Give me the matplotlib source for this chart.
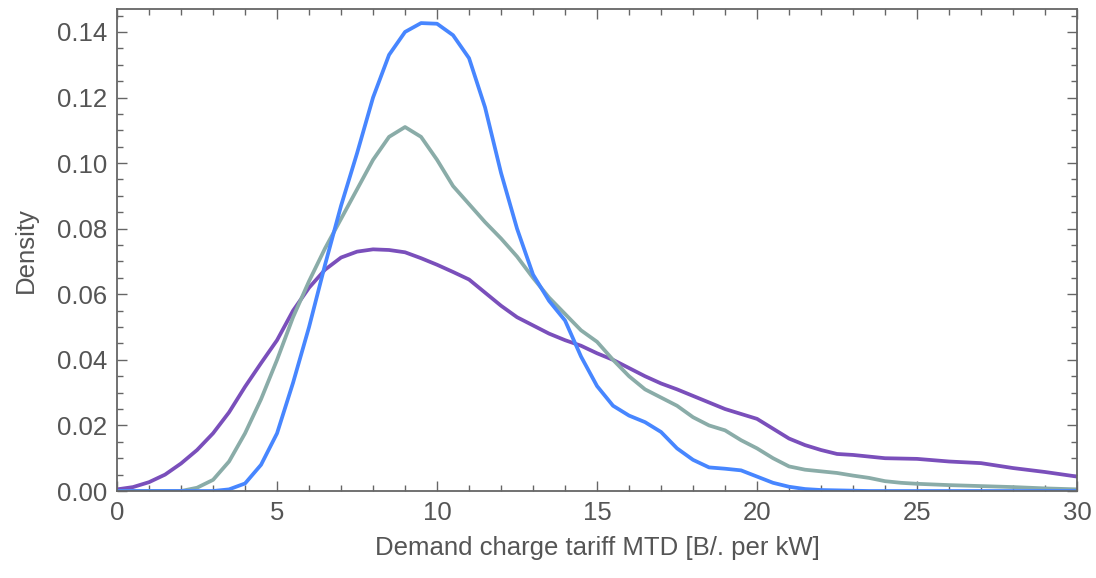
import numpy as np
import matplotlib
matplotlib.use("Agg")
import matplotlib.pyplot as plt
from matplotlib.ticker import MultipleLocator

plt.rcParams["font.family"] = ["Liberation Sans", "DejaVu Sans"]

tariff = [0.0, 0.5, 1.0, 1.5, 2.0, 2.5, 3.0, 3.5, 4.0, 4.5,
          5.0, 5.5, 6.0, 6.5, 7.0, 7.5, 8.0, 8.5, 9.0, 9.5,
          10.0, 10.5, 11.0, 11.5, 12.0, 12.5, 13.0, 13.5, 14.0, 14.5,
          15.0, 15.5, 16.0, 16.5, 17.0, 17.5, 18.0, 18.5, 19.0, 19.5,
          20.0, 20.5, 21.0, 21.5, 22.0, 22.5, 23.0, 23.5, 24.0, 24.5,
          25.0, 26.0, 27.0, 28.0, 29.0, 30.0]

density_blue = [0.0, 0.0, 0.0, 0.0, 0.0, 0.0, 0.0, 0.0005, 0.0023, 0.008,
                0.0176, 0.033, 0.050, 0.069, 0.087, 0.103, 0.120, 0.133, 0.1400, 0.1427,
                0.1425, 0.139, 0.132, 0.117, 0.097, 0.080, 0.066, 0.058, 0.052, 0.041,
                0.032, 0.026, 0.023, 0.021, 0.018, 0.013, 0.0095, 0.0072, 0.0068, 0.0063,
                0.0044, 0.0025, 0.0013, 0.0006, 0.0003, 0.0002, 0.0001, 0.0, 0.0, 0.0,
                0.0, 0.0, 0.0, 0.0, 0.0, 0.0]

density_teal = [0.0, 0.0, 0.0, 0.0, 0.0, 0.001, 0.0034, 0.009, 0.0176, 0.028,
                0.040, 0.053, 0.064, 0.074, 0.083, 0.092, 0.101, 0.108, 0.111, 0.108,
                0.101, 0.093, 0.0875, 0.082, 0.077, 0.0715, 0.065, 0.059, 0.054, 0.049,
                0.0455, 0.040, 0.035, 0.031, 0.0285, 0.026, 0.0225, 0.020, 0.0185, 0.0155,
                0.013, 0.010, 0.0075, 0.0065, 0.006, 0.0055, 0.0047, 0.004, 0.003, 0.0025,
                0.0022, 0.0018, 0.0015, 0.0012, 0.0008, 0.0005]

density_purple = [0.0005, 0.0012, 0.0027, 0.005, 0.0084, 0.0125, 0.0176, 0.024, 0.0318, 0.039,
                  0.046, 0.055, 0.062, 0.0675, 0.0712, 0.0730, 0.0737, 0.0735, 0.0728, 0.071,
                  0.069, 0.0668, 0.0645, 0.0605, 0.0565, 0.053, 0.0505, 0.048, 0.046, 0.0443,
                  0.042, 0.040, 0.0375, 0.035, 0.0328, 0.031, 0.029, 0.027, 0.025, 0.0235,
                  0.022, 0.019, 0.016, 0.014, 0.0125, 0.0113, 0.011, 0.0105, 0.010, 0.0099,
                  0.0098, 0.009, 0.0085, 0.007, 0.0058, 0.0044]

series = [
    (density_purple, "#7a4fbb"),
    (density_teal, "#8aaca8"),
    (density_blue, "#4786ff"),
]

fig = plt.figure(figsize=(10.96, 5.78), dpi=100)
ax = fig.add_axes([0.1068, 0.1505, 0.8759, 0.8334])

for dens, col in series:
    ax.plot(tariff, dens, color=col, lw=2.7, solid_capstyle="round",
            solid_joinstyle="round")

ax.set_xlim(0, 30)
ax.set_ylim(0, 0.1469)

ax.xaxis.set_major_locator(MultipleLocator(5))
ax.xaxis.set_minor_locator(MultipleLocator(1))
ax.yaxis.set_major_locator(MultipleLocator(0.02))
ax.yaxis.set_minor_locator(MultipleLocator(0.005))
ax.yaxis.set_major_formatter(plt.FormatStrFormatter("%.2f"))

grey = "#666666"
for sp in ax.spines.values():
    sp.set_color(grey)
    sp.set_linewidth(1.3)

ax.tick_params(which="both", direction="in", top=True, right=True,
               color=grey, width=1.0, labelsize=18.5, labelcolor="#555555")
ax.tick_params(which="major", length=7, pad=7)
ax.tick_params(which="minor", length=4)

ax.set_xlabel("Demand charge tariff MTD [B/. per kW]", fontsize=18.5,
              color="#555555", labelpad=8)
ax.set_ylabel("Density", fontsize=18.5, color="#555555", labelpad=14)

fig.savefig("out.png", dpi=100)
